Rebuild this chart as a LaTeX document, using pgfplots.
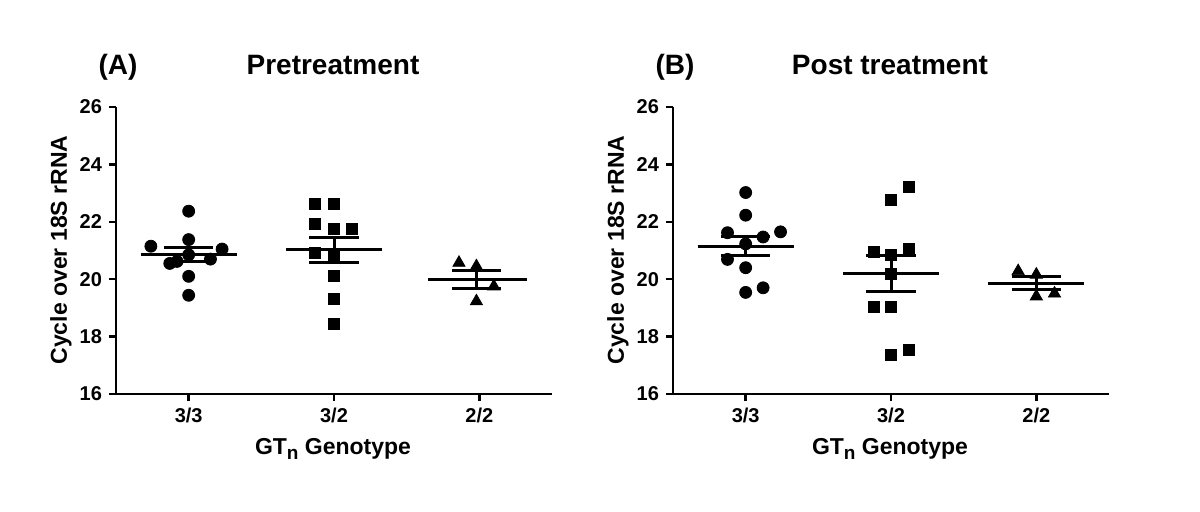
\documentclass[border=0pt]{standalone}
\usepackage{pgfplots}
\pgfplotsset{compat=1.18}
\usepackage{fontspec}
\setmainfont{Liberation Sans}
\newcommand\sub{\raisebox{-0.45ex}{\fontsize{9.5bp}{10bp}\selectfont n}}
\begin{document}
\begin{tikzpicture}[font=\bfseries]
\path[use as bounding box] (0,0) rectangle (600bp,256bp);
\pgfplotsset{
 myax/.style={
  scale only axis, width=218bp, height=143.5bp,
  axis lines=left, axis line style={-, line width=1.4bp},
  xmin=-0.5, xmax=2.5, ymin=16, ymax=26,
  xtick={0,1,2}, xticklabels={3/3,3/2,2/2},
  ytick={16,18,20,22,24,26},
  tick align=outside, major tick length=3.5bp,
  tick style={black, line width=1.2bp},
  tick label style={font=\fontsize{10bp}{11bp}\selectfont\bfseries},
  /pgf/number format/assume math mode=true,
  clip=false,
 },
 pts/.style={only marks, black, mark options={solid, fill=black}},
 stat/.style={black, line width=1.5bp, no marks},
}
% ---------------- Left panel
\begin{axis}[myax, at={(58bp,59bp)}, anchor=south west]
\addplot[pts, mark=*, mark size=3bp] coordinates {
 (0,22.37) (0,21.38) (-0.26,21.15) (0.23,21.05) (0,20.85) (0.15,20.70)
 (-0.08,20.62) (-0.13,20.55) (0,20.10) (0,19.44)};
\addplot[pts, mark=square*, mark size=2.75bp] coordinates {
 (0.87,22.63) (1,22.63) (0.87,21.91) (1,21.77) (1.12,21.77) (0.87,20.90)
 (1,20.78) (1,20.10) (1,19.31) (1,18.45)};
\addplot[pts, mark=triangle*, mark size=3.5bp] coordinates {
 (1.86,20.57) (1.98,20.45) (2.10,19.75) (1.98,19.23)};
% mean and SEM
\addplot[stat] coordinates {(-0.33,20.86) (0.33,20.86)};
\addplot[stat] coordinates {(-0.17,20.60) (0.17,20.60)};
\addplot[stat] coordinates {(-0.17,21.09) (0.17,21.09)};
\addplot[stat] coordinates {(0,20.60) (0,21.09)};
\addplot[stat] coordinates {(0.67,21.03) (1.33,21.03)};
\addplot[stat] coordinates {(0.83,20.59) (1.17,20.59)};
\addplot[stat] coordinates {(0.83,21.47) (1.17,21.47)};
\addplot[stat] coordinates {(1,20.59) (1,21.47)};
\addplot[stat] coordinates {(1.65,19.99) (2.33,19.99)};
\addplot[stat] coordinates {(1.81,19.67) (2.15,19.67)};
\addplot[stat] coordinates {(1.81,20.30) (2.15,20.30)};
\addplot[stat] coordinates {(1.98,19.67) (1.98,20.30)};
\end{axis}
% ---------------- Right panel
\begin{axis}[myax, at={(336.5bp,59bp)}, anchor=south west]
\addplot[pts, mark=*, mark size=3bp] coordinates {
 (0,23.02) (0,22.23) (-0.125,21.62) (0.24,21.65) (0.12,21.47) (0,21.23)
 (-0.125,20.69) (0,20.40) (0,19.54) (0.12,19.70)};
\addplot[pts, mark=square*, mark size=2.75bp] coordinates {
 (1.12,23.23) (1,22.76) (0.88,20.94) (1.12,21.06) (1,20.83) (1,20.20)
 (0.88,19.05) (1,19.05) (1,17.36) (1.12,17.54)};
\addplot[pts, mark=triangle*, mark size=3.5bp] coordinates {
 (1.875,20.28) (2,20.16) (2,19.40) (2.125,19.50)};
\addplot[stat] coordinates {(-0.33,21.15) (0.33,21.15)};
\addplot[stat] coordinates {(-0.17,20.83) (0.17,20.83)};
\addplot[stat] coordinates {(-0.17,21.48) (0.17,21.48)};
\addplot[stat] coordinates {(0,20.83) (0,21.48)};
\addplot[stat] coordinates {(0.67,20.20) (1.33,20.20)};
\addplot[stat] coordinates {(0.83,19.58) (1.17,19.58)};
\addplot[stat] coordinates {(0.83,20.83) (1.17,20.83)};
\addplot[stat] coordinates {(1,19.58) (1,20.83)};
\addplot[stat] coordinates {(1.67,19.86) (2.33,19.86)};
\addplot[stat] coordinates {(1.83,19.64) (2.17,19.64)};
\addplot[stat] coordinates {(1.83,20.08) (2.17,20.08)};
\addplot[stat] coordinates {(2,19.64) (2,20.08)};
\end{axis}
% ---------------- Texts
\node[anchor=base, font=\fontsize{14bp}{16bp}\selectfont\bfseries] at (59bp,218.5bp) {(A)};
\node[anchor=base, font=\fontsize{14bp}{16bp}\selectfont\bfseries] at (166.5bp,218.5bp) {Pretreatment};
\node[anchor=base, font=\fontsize{14bp}{16bp}\selectfont\bfseries] at (337.5bp,218.5bp) {(B)};
\node[anchor=base, font=\fontsize{14bp}{16bp}\selectfont\bfseries] at (445bp,218.5bp) {Post treatment};
\node[rotate=90, font=\fontsize{11.5bp}{13bp}\selectfont\bfseries] at (30.5bp,131bp) {Cycle over 18S rRNA};
\node[rotate=90, font=\fontsize{11.5bp}{13bp}\selectfont\bfseries] at (309bp,131bp) {Cycle over 18S rRNA};
\node[anchor=base, font=\fontsize{11.5bp}{13bp}\selectfont\bfseries] at (166.5bp,29bp) {GT\sub{} Genotype};
\node[anchor=base, font=\fontsize{11.5bp}{13bp}\selectfont\bfseries] at (445bp,29bp) {GT\sub{} Genotype};
\end{tikzpicture}
\end{document}
